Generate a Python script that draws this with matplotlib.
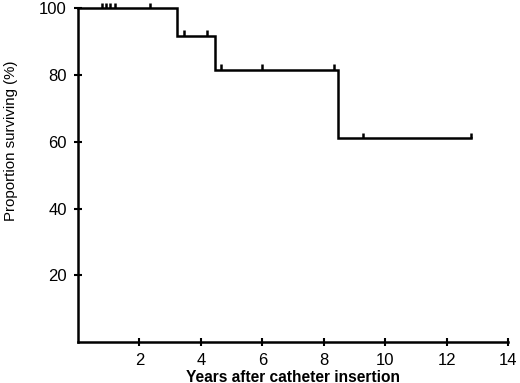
import matplotlib
matplotlib.use("Agg")
import matplotlib.pyplot as plt

plt.rcParams['font.family'] = ['Liberation Sans', 'DejaVu Sans']

# Kaplan-Meier step curve (years, % surviving)
step_times = [0.0, 3.22, 4.45, 8.47, 12.81]
step_surv = [100.0, 91.7, 81.5, 61.1, 61.1]
# censored observations
censor_times = [0.78, 0.92, 1.05, 1.22, 2.35, 3.45, 4.21, 4.65, 5.98, 8.34, 9.28, 12.81]

xticks = [2, 4, 6, 8, 10, 12, 14]
yticks = [20, 40, 60, 80, 100]

def surv_at(t):
    s = step_surv[0]
    for tt, ss in zip(step_times, step_surv):
        if t >= tt:
            s = ss
    return s

fig = plt.figure(figsize=(5.2, 3.83), dpi=100)
ax = fig.add_axes([0.150, 0.107, 0.827, 0.871])

ax.step(step_times, step_surv, where='post', color='black', lw=1.8,
        solid_joinstyle='miter', clip_on=False)
for t in censor_times:
    s = surv_at(t)
    ax.plot([t, t], [s, s + 1.7], color='black', lw=1.8,
            solid_capstyle='butt', clip_on=False)

ax.set_xlim(0, 14)
ax.set_ylim(0, 100)
ax.set_xticks(xticks)
ax.set_yticks(yticks)
ax.spines['top'].set_visible(False)
ax.spines['right'].set_visible(False)
for sp in ('left', 'bottom'):
    ax.spines[sp].set_linewidth(1.8)
ax.tick_params(direction='inout', length=6, width=1.5, labelsize=12, pad=5)
ax.set_ylabel('Proportion surviving (%)', fontsize=10.8)
ax.yaxis.set_label_coords(-0.140, 0.603)
ax.set_xlabel('Years after catheter insertion', fontsize=11.2, fontweight='bold', labelpad=1)

fig.savefig('out.png', dpi=100)
